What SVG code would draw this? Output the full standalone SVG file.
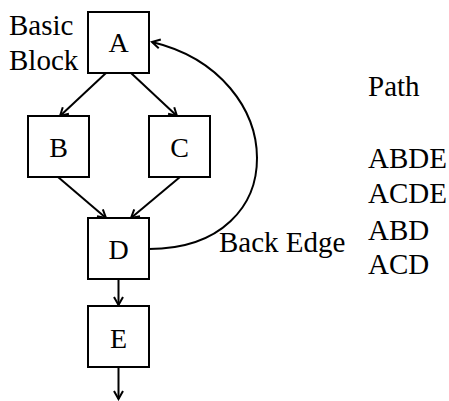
<svg xmlns="http://www.w3.org/2000/svg" width="449" height="401" viewBox="0 0 449 401">
<defs>
<style>
.box{fill:#fff;stroke:#000;stroke-width:2}
.t{font-family:"Liberation Serif","Times New Roman",serif;font-size:29px;fill:#000}
.c{text-anchor:middle;font-size:28px}
.e{fill:none;stroke:#000;stroke-width:2;marker-end:url(#ah)}
</style>
<marker id="ah" markerUnits="userSpaceOnUse" markerWidth="12" markerHeight="12" refX="10" refY="6" orient="auto" overflow="visible">
<path d="M2,1.5 L10,6 L2,10.5" fill="none" stroke="#000" stroke-width="2"/>
</marker>
</defs>
<rect width="449" height="401" fill="#fff"/>
<g id="connectors">
<line class="e" x1="106" y1="73" x2="60" y2="116"/>
<line class="e" x1="131" y1="73" x2="177" y2="116"/>
<line class="e" x1="58" y1="177" x2="106" y2="218"/>
<line class="e" x1="180" y1="177" x2="131" y2="218"/>
<line class="e" x1="118.5" y1="279" x2="118.5" y2="305"/>
<line class="e" x1="118.5" y1="367" x2="118.5" y2="399"/>
<path id="back-edge" class="e" d="M149,249 C295,249 290,75 152,42"/>
</g>
<g id="A"><rect class="box" x="88" y="12" width="61" height="61"/><text class="t c" x="118.5" y="52">A</text></g>
<g id="B"><rect class="box" x="28" y="116" width="61" height="61"/><text class="t c" x="58.5" y="157">B</text></g>
<g id="C"><rect class="box" x="149" y="116" width="61" height="61"/><text class="t c" x="179.5" y="157">C</text></g>
<g id="D"><rect class="box" x="88" y="218" width="61" height="61"/><text class="t c" x="118.5" y="259">D</text></g>
<g id="E"><rect class="box" x="88" y="306" width="61" height="61"/><text class="t c" x="118.5" y="348">E</text></g>
<g id="labels">
<text class="t" x="9" y="35">Basic</text>
<text class="t" x="9" y="70">Block</text>
<text class="t" x="219" y="252">Back Edge</text>
<text class="t" x="368" y="96">Path</text>
<text class="t" x="368" y="168">ABDE</text>
<text class="t" x="368" y="203">ACDE</text>
<text class="t" x="368" y="240">ABD</text>
<text class="t" x="368" y="274">ACD</text>
</g>
</svg>
